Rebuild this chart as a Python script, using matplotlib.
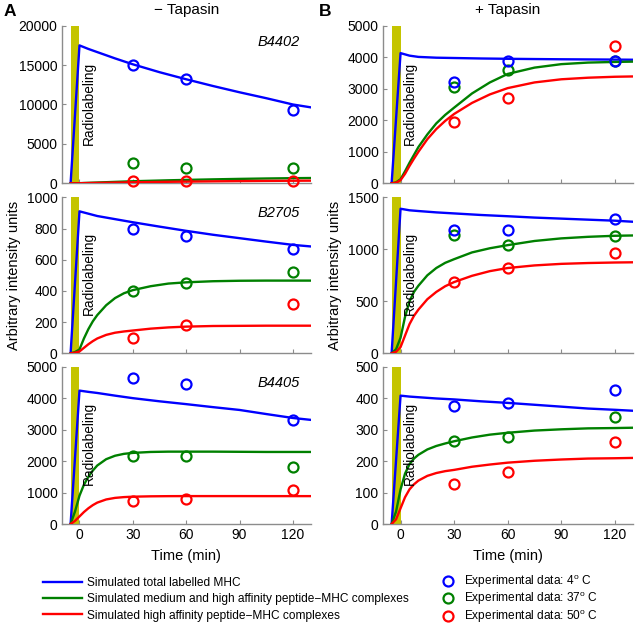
import matplotlib
matplotlib.use("Agg")
import matplotlib.pyplot as plt
from matplotlib.lines import Line2D

plt.rcParams['font.family'] = ['Liberation Sans', 'DejaVu Sans']

# ---------------- data ----------------
t_total = [-5, 0, 5, 10, 20, 30, 45, 60, 75, 90, 105, 120, 130]
t_cplx = [-5, -2.5, 0, 2.5, 5, 7.5, 10, 15, 20, 25, 30, 40, 50, 60, 75, 90, 105, 120, 130]
t_exp = [30, 60, 120]

# Panel A (- Tapasin)
A1_total = [0, 17500, 17050, 16650, 15850, 15100, 14100, 13200, 12350, 11550, 10800, 10000, 9640]
A1_med = [0, 5, 15, 40, 60, 80, 100, 140, 180, 220, 260, 320, 380, 430, 500, 560, 610, 650, 670]
A1_high = [0, 3, 10, 20, 30, 40, 50, 70, 90, 110, 130, 160, 190, 215, 250, 280, 305, 325, 335]
A1_exp4 = [15000, 13200, 9300]
A1_exp37 = [2550, 1900, 1900]
A1_exp50 = [300, 300, 300]

A2_total = [0, 910, 895, 880, 860, 840, 812, 785, 760, 738, 716, 695, 685]
A2_med = [0, 8, 25, 95, 155, 205, 245, 308, 354, 385, 405, 430, 447, 455, 462, 465, 466, 466, 466]
A2_high = [0, 4, 12, 35, 58, 78, 95, 118, 132, 140, 146, 158, 166, 171, 175, 176, 177, 177, 177]
A2_exp4 = [800, 750, 670]
A2_exp37 = [400, 450, 520]
A2_exp50 = [100, 180, 315]

A3_total = [0, 4240, 4200, 4165, 4080, 4000, 3900, 3810, 3715, 3625, 3495, 3370, 3310]
A3_med = [0, 400, 900, 1250, 1500, 1700, 1860, 2060, 2170, 2230, 2260, 2290, 2300, 2300, 2300, 2295, 2290, 2290, 2290]
A3_high = [0, 100, 240, 380, 500, 600, 680, 780, 830, 855, 868, 880, 885, 887, 887, 887, 886, 886, 886]
A3_exp4 = [4650, 4450, 3300]
A3_exp37 = [2150, 2150, 1800]
A3_exp50 = [730, 800, 1080]

# Panel B (+ Tapasin)
B1_total = [0, 4130, 4050, 4010, 3985, 3975, 3960, 3950, 3942, 3935, 3930, 3925, 3920]
B1_med = [0, 30, 130, 380, 650, 900, 1150, 1550, 1900, 2170, 2400, 2850, 3200, 3470, 3670, 3780, 3830, 3850, 3860]
B1_high = [0, 20, 100, 300, 550, 780, 1000, 1400, 1720, 1980, 2200, 2550, 2820, 3020, 3200, 3300, 3350, 3380, 3390]
B1_exp4 = [3220, 3890, 3890]
B1_exp37 = [3060, 3580, 3880]
B1_exp50 = [1950, 2700, 4350]

B2_total = [0, 1390, 1375, 1368, 1355, 1345, 1330, 1318, 1305, 1295, 1285, 1275, 1265]
B2_med = [0, 40, 150, 350, 500, 590, 650, 750, 820, 870, 905, 970, 1010, 1040, 1080, 1105, 1120, 1130, 1133]
B2_high = [0, 15, 60, 170, 280, 360, 420, 520, 590, 645, 685, 745, 790, 820, 845, 860, 868, 873, 875]
B2_exp4 = [1187, 1187, 1292]
B2_exp37 = [1137, 1041, 1130]
B2_exp50 = [689, 825, 962]

B3_total = [0, 408, 405, 403, 399, 396, 390, 385, 379, 373, 367, 363, 360]
B3_med = [0, 40, 110, 160, 190, 208, 220, 237, 248, 256, 263, 275, 284, 290, 297, 301, 304, 305, 306]
B3_high = [0, 15, 50, 85, 110, 126, 138, 153, 162, 168, 172, 182, 189, 195, 201, 205, 208, 209, 210]
B3_exp4 = [374, 385, 425]
B3_exp37 = [264, 275, 340]
B3_exp50 = [126, 166, 260]

allele_labels = ["B4402", "B2705", "B4405"]
ylims_A = [20000, 1000, 5000]
ylims_B = [5000, 1500, 500]
yticks_A = [[0, 5000, 10000, 15000, 20000], [0, 200, 400, 600, 800, 1000], [0, 1000, 2000, 3000, 4000, 5000]]
yticks_B = [[0, 1000, 2000, 3000, 4000, 5000], [0, 500, 1000, 1500], [0, 100, 200, 300, 400, 500]]
xticks = [0, 30, 60, 90, 120]
label_start, label_end = -5, 0

legend_lines = ["Simulated total labelled MHC",
                "Simulated medium and high affinity peptide\u2212MHC complexes",
                "Simulated high affinity peptide\u2212MHC complexes"]
legend_marks = ["Experimental data: 4$^{\\mathregular{o}}$ C",
                "Experimental data: 37$^{\\mathregular{o}}$ C",
                "Experimental data: 50$^{\\mathregular{o}}$ C"]

# ---------------- style ----------------
C_BLUE = '#0000ff'
C_GREEN = '#008000'
C_RED = '#ff0000'
C_BAR = '#c4c400'
SPINE = '#8c8c8c'

W, H = 636, 624
fig = plt.figure(figsize=(W / 100, H / 100), dpi=100)

rows_px = [(25.7, 183.3), (197.3, 353.3), (366.7, 524.0)]
cols_px = [(61.7, 310.7), (382.7, 632.7)]

panels = {
    0: [(A1_total, A1_med, A1_high, A1_exp4, A1_exp37, A1_exp50),
        (A2_total, A2_med, A2_high, A2_exp4, A2_exp37, A2_exp50),
        (A3_total, A3_med, A3_high, A3_exp4, A3_exp37, A3_exp50)],
    1: [(B1_total, B1_med, B1_high, B1_exp4, B1_exp37, B1_exp50),
        (B2_total, B2_med, B2_high, B2_exp4, B2_exp37, B2_exp50),
        (B3_total, B3_med, B3_high, B3_exp4, B3_exp37, B3_exp50)],
}

lw = 1.7
ms = 7.2
mew = 1.6

for c, (x0, x1) in enumerate(cols_px):
    for r, (y0, y1) in enumerate(rows_px):
        ax = fig.add_axes([x0 / W, 1 - y1 / H, (x1 - x0) / W, (y1 - y0) / H])
        tot, med, high, e4, e37, e50 = panels[c][r]
        ymax = (ylims_A if c == 0 else ylims_B)[r]
        ax.axvspan(label_start, label_end, color=C_BAR, lw=0, zorder=1)
        ax.plot(t_total, tot, color=C_BLUE, lw=lw, zorder=3)
        ax.plot(t_cplx, med, color=C_GREEN, lw=lw, zorder=3)
        ax.plot(t_cplx, high, color=C_RED, lw=lw, zorder=3)
        ax.plot(t_exp, e50, 'o', mfc='none', mec=C_RED, ms=ms, mew=mew, zorder=4, clip_on=False)
        ax.plot(t_exp, e37, 'o', mfc='none', mec=C_GREEN, ms=ms, mew=mew, zorder=4, clip_on=False)
        ax.plot(t_exp, e4, 'o', mfc='none', mec=C_BLUE, ms=ms, mew=mew, zorder=5, clip_on=False)
        ax.set_xlim(-10, 130)
        ax.set_ylim(0, ymax)
        ax.set_xticks(xticks)
        ax.set_yticks((yticks_A if c == 0 else yticks_B)[r])
        for s in ['top', 'right']:
            ax.spines[s].set_visible(False)
        for s in ['left', 'bottom']:
            ax.spines[s].set_color(SPINE)
            ax.spines[s].set_linewidth(1.0)
        ax.tick_params(direction='in', length=3, width=0.8, color=SPINE,
                       labelsize=10, pad=3, labelcolor='black')
        if r < 2:
            ax.tick_params(labelbottom=False)
        else:
            ax.set_xlabel("Time (min)", fontsize=10.5, labelpad=5)
        ax.text(5.3, 0.245, "Radiolabeling", rotation=90, fontsize=9.8,
                ha='center', va='bottom', transform=ax.get_xaxis_transform(), zorder=6)
        if c == 0:
            ax.text(0.957, 0.897, allele_labels[r], style='italic', fontsize=10.5,
                    ha='right', va='center', transform=ax.transAxes)
        if r == 1:
            ax.set_ylabel("Arbitrary intensity units", fontsize=10.5, labelpad=4)

# titles and panel letters
fig.text(((61.7 + 310.7) / 2) / W, 1 - 10 / H, "\u2212 Tapasin", ha='center', va='center', fontsize=11)
fig.text(((382.7 + 632.7) / 2) / W, 1 - 10 / H, "+ Tapasin", ha='center', va='center', fontsize=11)
fig.text(10 / W, 1 - 11 / H, "A", ha='center', va='center', fontsize=12.5, fontweight='bold')
fig.text(325 / W, 1 - 11 / H, "B", ha='center', va='center', fontsize=12.5, fontweight='bold')

# legends
h_lines = [Line2D([], [], color=col, lw=lw) for col in (C_BLUE, C_GREEN, C_RED)]
h_marks = [Line2D([], [], color=col, ls='none', marker='o', mfc='none', ms=ms, mew=mew)
           for col in (C_BLUE, C_GREEN, C_RED)]
fig.legend(h_lines, legend_lines, loc='upper left', bbox_to_anchor=(43 / W, 1 - 577 / H),
           frameon=False, fontsize=8.6, handlelength=3.3, handletextpad=0.4,
           labelspacing=0.36, borderpad=0, borderaxespad=0)
fig.legend(h_marks, legend_marks, loc='upper left', bbox_to_anchor=(442 / W, 1 - 573 / H),
           frameon=False, fontsize=8.6, handlelength=1.0, handletextpad=0.8,
           labelspacing=0.06, borderpad=0, borderaxespad=0)

fig.savefig("out.png", dpi=100)
